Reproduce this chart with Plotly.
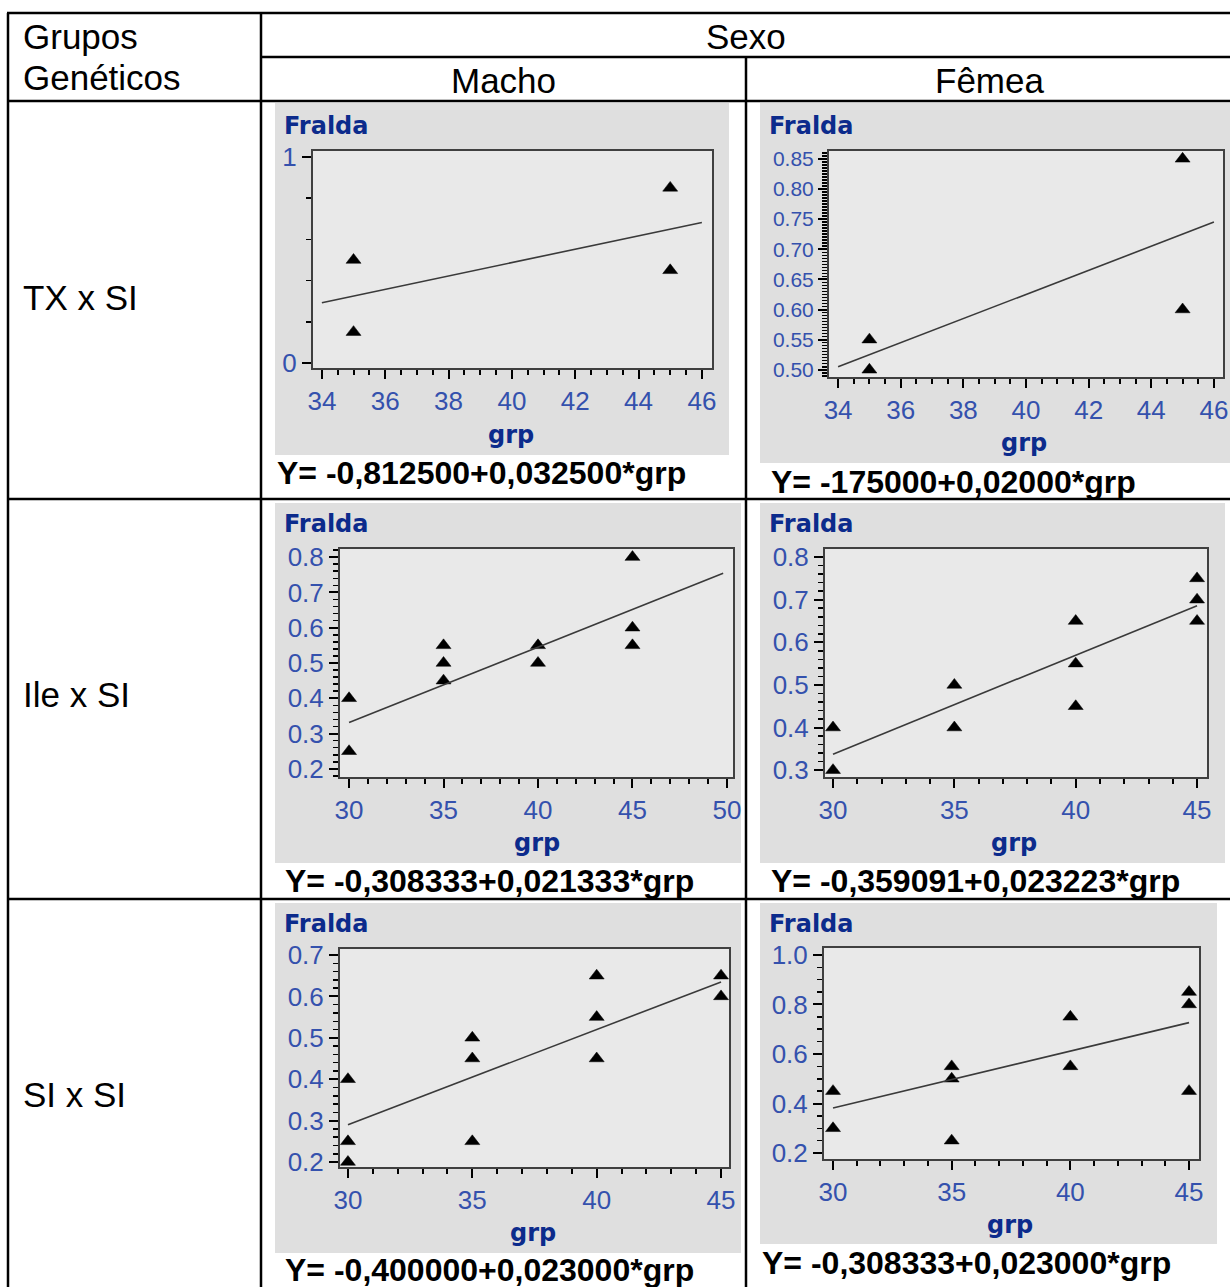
import plotly.graph_objects as go

# ---------------- DATA ----------------
tx_macho_grp = [35, 35, 45, 45]
tx_macho_fralda = [0.50, 0.15, 0.85, 0.45]
tx_femea_grp = [35, 35, 45, 45]
tx_femea_fralda = [0.55, 0.50, 0.85, 0.60]
ile_macho_grp = [30, 30, 35, 35, 35, 40, 40, 45, 45, 45]
ile_macho_fralda = [0.40, 0.25, 0.55, 0.50, 0.45, 0.55, 0.50, 0.80, 0.60, 0.55]
ile_femea_grp = [30, 30, 35, 35, 40, 40, 40, 45, 45, 45]
ile_femea_fralda = [0.40, 0.30, 0.50, 0.40, 0.65, 0.55, 0.45, 0.75, 0.70, 0.65]
si_macho_grp = [30, 30, 30, 35, 35, 35, 40, 40, 40, 45, 45]
si_macho_fralda = [0.40, 0.25, 0.20, 0.50, 0.45, 0.25, 0.65, 0.55, 0.45, 0.65, 0.60]
si_femea_grp = [30, 30, 35, 35, 35, 40, 40, 45, 45, 45]
si_femea_fralda = [0.45, 0.30, 0.55, 0.50, 0.25, 0.75, 0.55, 0.85, 0.80, 0.45]

intercepts = [-0.8125, -0.175, -0.308333, -0.359091, -0.400000, -0.308333]
slopes = [0.0325, 0.02, 0.021333, 0.023223, 0.023, 0.023]
fit_x_ranges = [[34, 46], [34, 46], [30, 49.8], [30, 45], [30, 45], [30, 45]]
equations = [
    "Y= -0,812500+0,032500*grp",
    "Y= -175000+0,02000*grp",
    "Y= -0,308333+0,021333*grp",
    "Y= -0,359091+0,023223*grp",
    "Y= -0,400000+0,023000*grp",
    "Y= -0,308333+0,023000*grp",
]
row_labels = ["TX x SI", "Ile x SI", "SI x SI"]
col_labels = ["Macho", "Fêmea"]
header_group = ["Grupos", "Genéticos"]
header_sex = "Sexo"
y_title = "Fralda"
x_title = "grp"

series_x = [tx_macho_grp, tx_femea_grp, ile_macho_grp, ile_femea_grp, si_macho_grp, si_femea_grp]
series_y = [tx_macho_fralda, tx_femea_fralda, ile_macho_fralda, ile_femea_fralda, si_macho_fralda, si_femea_fralda]

# ---------------- LAYOUT (pixels) ----------------
W, H = 1230, 1287


def px(x):
    return x / W


def py(y):
    return 1 - y / H


panels = [
    dict(bg=(275, 103, 729, 455), box=(313, 151, 712, 368),
         xr=[33.72, 46.32], yr=[-0.024, 1.029], xd=2, xm=0.5, yd=1, ym=0.2, yfmt="d", yfs=26,
         fralda=(282, 126), grp=(511, 435), eq=(275, 473)),
    dict(bg=(760, 103, 1230, 463), box=(829, 151, 1223, 377),
         xr=[33.71, 46.29], yr=[0.488, 0.863], xd=2, xm=0.5, yd=0.05, ym=0.005, yfmt=".2f", yfs=21,
         fralda=(767, 126), grp=(1024, 443), eq=(769, 482)),
    dict(bg=(275, 503, 741, 863), box=(340, 549, 733, 777),
         xr=[29.52, 50.32], yr=[0.177, 0.823], xd=5, xm=1, yd=0.1, ym=0.02, yfmt=".1f", yfs=26,
         fralda=(282, 524), grp=(537, 843), eq=(283, 881)),
    dict(bg=(760, 503, 1225, 863), box=(825, 549, 1207, 777),
         xr=[29.67, 45.41], yr=[0.284, 0.819], xd=5, xm=1, yd=0.1, ym=0.02, yfmt=".1f", yfs=26,
         fralda=(767, 524), grp=(1014, 843), eq=(769, 881)),
    dict(bg=(275, 903, 741, 1253), box=(340, 949, 729, 1167),
         xr=[29.68, 45.32], yr=[0.188, 0.7145], xd=5, xm=1, yd=0.1, ym=0.02, yfmt=".1f", yfs=26,
         fralda=(282, 924), grp=(533, 1233), eq=(283, 1270)),
    dict(bg=(760, 903, 1217, 1244), box=(824, 948, 1199, 1159),
         xr=[29.62, 45.42], yr=[0.176, 1.028], xd=5, xm=1, yd=0.2, ym=0.05, yfmt=".1f", yfs=26,
         fralda=(767, 924), grp=(1010, 1225), eq=(760, 1263)),
]

TICK_BLUE = "#3451ad"
NAVY = "#0c2b8c"
OUTER_GREY = "#dfdfdf"
INNER_GREY = "#e9e9e9"

fig = go.Figure()
shapes = []
annotations = []
layout_axes = {}

for i, p in enumerate(panels):
    n = i + 1
    xa = "x" if n == 1 else f"x{n}"
    ya = "y" if n == 1 else f"y{n}"
    bx0, by0, bx1, by1 = p["box"]
    gx0, gy0, gx1, gy1 = p["bg"]
    shapes.append(dict(type="rect", xref="paper", yref="paper", layer="below",
                       x0=px(gx0), x1=px(gx1), y0=py(gy1), y1=py(gy0),
                       fillcolor=OUTER_GREY, line=dict(width=0)))
    shapes.append(dict(type="rect", xref="paper", yref="paper", layer="below",
                       x0=px(bx0), x1=px(bx1), y0=py(by1), y1=py(by0),
                       fillcolor=INNER_GREY, line=dict(width=0)))

    fig.add_trace(go.Scatter(x=series_x[i], y=series_y[i], mode="markers",
                             marker=dict(symbol="triangle-up", size=13, color="black",
                                         line=dict(width=0.5, color="black")),
                             cliponaxis=False, showlegend=False, xaxis=xa, yaxis=ya))
    lx = fit_x_ranges[i]
    ly = [intercepts[i] + slopes[i] * v for v in lx]
    fig.add_trace(go.Scatter(x=lx, y=ly, mode="lines",
                             line=dict(color="#3a3a3a", width=1.6),
                             showlegend=False, xaxis=xa, yaxis=ya))

    common = dict(showline=True, mirror=True, linecolor="#404040", linewidth=2,
                  showgrid=False, zeroline=False, ticks="outside", ticklen=9, tickwidth=2,
                  tickcolor="black", autorange=False, fixedrange=True,
                  tickfont=dict(family="Liberation Sans", size=26, color=TICK_BLUE))
    xkey = "xaxis" if n == 1 else f"xaxis{n}"
    ykey = "yaxis" if n == 1 else f"yaxis{n}"
    layout_axes[xkey] = dict(common, domain=[px(bx0), px(bx1)], anchor=ya, range=p["xr"],
                             tickmode="linear", tick0=0, dtick=p["xd"],
                             minor=dict(tickmode="linear", tick0=0, dtick=p["xm"], ticks="outside",
                                        ticklen=5, tickwidth=2, tickcolor="black", showgrid=False))
    ycommon = dict(common)
    ycommon["tickfont"] = dict(family="Liberation Sans", size=p["yfs"], color=TICK_BLUE)
    layout_axes[ykey] = dict(ycommon, domain=[py(by1), py(by0)], anchor=xa, range=p["yr"],
                             tickmode="linear", tick0=0, dtick=p["yd"], tickformat=p["yfmt"],
                             minor=dict(tickmode="linear", tick0=0, dtick=p["ym"], ticks="outside",
                                        ticklen=5, tickwidth=1.5, tickcolor="black", showgrid=False))

    fx, fy = p["fralda"]
    annotations.append(dict(x=px(fx), y=py(fy), xref="paper", yref="paper", text=f"<b>{y_title}</b>",
                            showarrow=False, xanchor="left", yanchor="middle",
                            font=dict(family="DejaVu Sans", size=24, color=NAVY)))
    gx, gy = p["grp"]
    annotations.append(dict(x=px(gx), y=py(gy), xref="paper", yref="paper", text=f"<b>{x_title}</b>",
                            showarrow=False, xanchor="center", yanchor="middle",
                            font=dict(family="DejaVu Sans", size=24, color=NAVY)))
    ex, ey = p["eq"]
    annotations.append(dict(x=px(ex), y=py(ey), xref="paper", yref="paper", text=f"<b>{equations[i]}</b>",
                            showarrow=False, xanchor="left", yanchor="middle",
                            font=dict(family="Liberation Sans", size=32, color="black")))

LW = 2.5
table_lines = [
    (7, 13, 1230, 13),
    (8, 13, 8, 1287),
    (261, 13, 261, 1287),
    (261, 57, 1230, 57),
    (746, 57, 746, 1287),
    (8, 101, 1230, 101),
    (8, 499, 1230, 499),
    (8, 899, 1230, 899),
]
for x0, y0, x1, y1 in table_lines:
    shapes.append(dict(type="line", xref="paper", yref="paper", layer="above",
                       x0=px(x0), x1=px(x1), y0=py(y0), y1=py(y1),
                       line=dict(color="black", width=LW)))

HF = dict(family="Liberation Sans", size=35, color="black")
annotations.append(dict(x=px(21), y=py(36), xref="paper", yref="paper", text=header_group[0],
                        showarrow=False, xanchor="left", yanchor="middle", font=HF))
annotations.append(dict(x=px(21), y=py(78), xref="paper", yref="paper", text=header_group[1],
                        showarrow=False, xanchor="left", yanchor="middle", font=HF))
annotations.append(dict(x=px(746), y=py(36), xref="paper", yref="paper", text=header_sex,
                        showarrow=False, xanchor="center", yanchor="middle", font=HF))
for cx, lab in zip([503, 989], col_labels):
    annotations.append(dict(x=px(cx), y=py(80), xref="paper", yref="paper", text=lab,
                            showarrow=False, xanchor="center", yanchor="middle", font=HF))
for ry, lab in zip([297, 694, 1094], row_labels):
    annotations.append(dict(x=px(21), y=py(ry), xref="paper", yref="paper", text=lab,
                            showarrow=False, xanchor="left", yanchor="middle", font=HF))

fig.update_layout(
    width=W, height=H, autosize=False,
    margin=dict(l=0, r=0, t=0, b=0, pad=0),
    paper_bgcolor="white", plot_bgcolor="rgba(0,0,0,0)",
    template="none", showlegend=False,
    shapes=shapes, annotations=annotations,
    **layout_axes,
)

fig.write_html("out.html", config={"displayModeBar": False, "staticPlot": True},
               post_script="document.body.style.margin='0';document.body.style.padding='0';document.body.style.overflow='hidden';")
